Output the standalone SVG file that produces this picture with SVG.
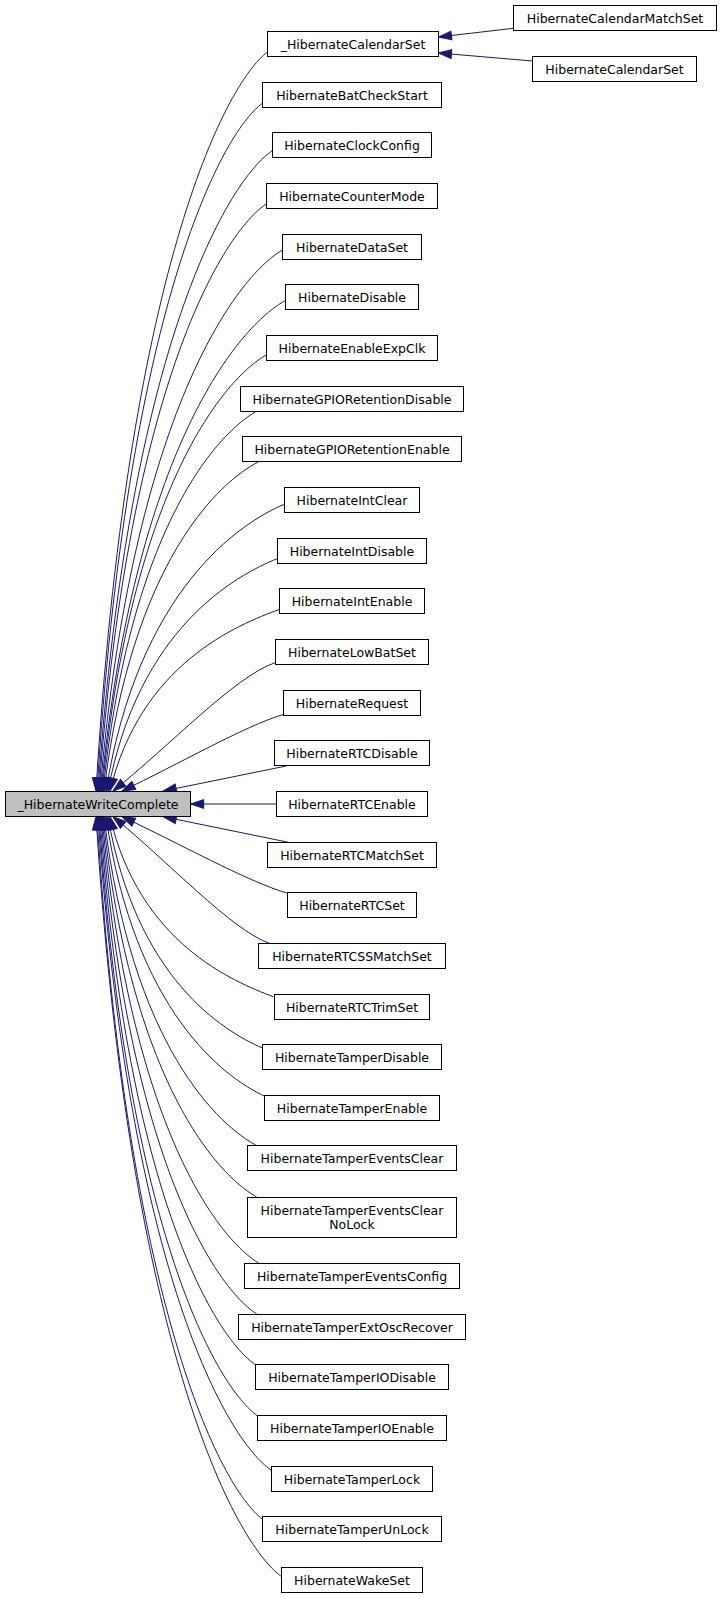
<svg xmlns="http://www.w3.org/2000/svg" width="721" height="1599" viewBox="0 0 721 1599">
<defs>
<style>
.n rect{fill:#ffffff;stroke:#000000;stroke-width:1}
.n.cur rect{fill:#bfbfbf}
.n text{font-family:"DejaVu Sans","Liberation Sans",sans-serif;font-size:12.5px;text-anchor:middle;fill:#000}
.e path{fill:none;stroke:#191970;stroke-width:1;marker-end:url(#arr)}
</style>
<marker id="arr" markerUnits="userSpaceOnUse" markerWidth="14" markerHeight="10" refX="13" refY="5" orient="auto" overflow="visible">
<path d="M0,0.6 L13,5 L0,9.4 z" fill="#191970" stroke="#191970" stroke-width="1"/>
</marker>
</defs>
<rect width="721" height="1599" fill="#ffffff"/>
<g id="edges" class="e">
<path d="M513.3,28.3 L438.5,37"/>
<path d="M532.7,61 L438.5,53"/>
<path d="M267.5,52 C224.6,84.2 126.9,273.7 96,791"/>
<path d="M262.3,103.3 C221,133.9 126.8,309.6 97,791"/>
<path d="M272.7,150.4 C229,179.6 129.4,342.6 98,791"/>
<path d="M266.3,204 C224.5,231.6 129.1,380.1 99,791"/>
<path d="M282.3,250.2 C236.7,276.4 132.8,412.4 100,791"/>
<path d="M285.7,300.4 C239.5,325.1 134.2,447.6 101,791"/>
<path d="M266.3,355 C225.2,378.1 131.6,485.8 102,791"/>
<path d="M256.7,411.2 C218.3,432.6 130.7,525.1 103,791"/>
<path d="M258.3,461.9 C219.7,481.8 131.8,560.6 104,791"/>
<path d="M284.3,504.3 C239.7,522.9 138.1,590.3 106,791"/>
<path d="M277.7,558.5 C235.3,575.5 138.5,628.3 108,791"/>
<path d="M279.7,609.3 C237.3,624.8 140.5,663.8 110,791"/>
<path d="M275,662.7 C234.5,676.5 169.7,746.1 113,791"/>
<path d="M283.7,714.3 C243.3,726.6 178.6,764.2 122,791"/>
<path d="M286.7,765.9 L163.3,791"/>
<path d="M276.7,804 L190.7,804"/>
<path d="M288,842.2 L163.3,816.7"/>
<path d="M286.7,893 C245.5,880.7 179.6,843.4 122,816.7"/>
<path d="M270,943.6 C230.7,929.8 168,861.1 113,816.7"/>
<path d="M273.3,996.7 C232.5,981.3 139.4,942.7 110,816.7"/>
<path d="M262.3,1048 C223.7,1031.1 135.8,978.6 108,816.7"/>
<path d="M264.3,1096 C224.7,1077.6 134.5,1012.2 106,816.7"/>
<path d="M258,1146.3 C219.5,1126.4 131.7,1047.4 104,816.7"/>
<path d="M256.7,1197 C218.3,1175.6 130.7,1082.9 103,816.7"/>
<path d="M259,1263.3 C219.7,1239.9 130.3,1129.3 102,816.7"/>
<path d="M256.7,1314 C217.8,1289.1 129,1164.8 101,816.7"/>
<path d="M255.7,1365 C216.8,1338.6 128,1200.5 100,816.7"/>
<path d="M257.7,1416 C218,1388 127.6,1236.2 99,816.7"/>
<path d="M271,1470 C227.7,1440.4 129.1,1274 98,816.7"/>
<path d="M262.3,1519 C221,1487.9 126.8,1308.3 97,816.7"/>
<path d="M281.7,1576.7 C235.3,1543.9 129.4,1348.7 96,816.7"/>
</g>
<g id="n_WriteComplete" class="n cur"><rect x="5.5" y="791.5" width="185" height="25"/><text x="98" y="808.5">_HibernateWriteComplete</text></g>
<g id="n_CalendarMatchSet" class="n"><rect x="513.5" y="5.5" width="203" height="25"/><text x="615" y="22.5">HibernateCalendarMatchSet</text></g>
<g id="n_CalendarSetPub" class="n"><rect x="532.5" y="56.5" width="164" height="25"/><text x="614.5" y="73.5">HibernateCalendarSet</text></g>
<g id="n_CalendarSet" class="n"><rect x="267.5" y="31.5" width="171" height="25"/><text x="353" y="48.5">_HibernateCalendarSet</text></g>
<g id="n_BatCheckStart" class="n"><rect x="262.5" y="82.5" width="179" height="25"/><text x="352" y="99.5">HibernateBatCheckStart</text></g>
<g id="n_ClockConfig" class="n"><rect x="272.5" y="132.5" width="159" height="25"/><text x="352" y="149.5">HibernateClockConfig</text></g>
<g id="n_CounterMode" class="n"><rect x="266.5" y="183.5" width="171" height="25"/><text x="352" y="200.5">HibernateCounterMode</text></g>
<g id="n_DataSet" class="n"><rect x="282.5" y="234.5" width="139" height="25"/><text x="352" y="251.5">HibernateDataSet</text></g>
<g id="n_Disable" class="n"><rect x="285.5" y="284.5" width="133" height="25"/><text x="352" y="301.5">HibernateDisable</text></g>
<g id="n_EnableExpClk" class="n"><rect x="266.5" y="335.5" width="171" height="25"/><text x="352" y="352.5">HibernateEnableExpClk</text></g>
<g id="n_GPIORetentionDisable" class="n"><rect x="240.5" y="386.5" width="223" height="25"/><text x="352" y="403.5">HibernateGPIORetentionDisable</text></g>
<g id="n_GPIORetentionEnable" class="n"><rect x="242.5" y="436.5" width="219" height="25"/><text x="352" y="453.5">HibernateGPIORetentionEnable</text></g>
<g id="n_IntClear" class="n"><rect x="284.5" y="487.5" width="135" height="25"/><text x="352" y="504.5">HibernateIntClear</text></g>
<g id="n_IntDisable" class="n"><rect x="277.5" y="538.5" width="149" height="25"/><text x="352" y="555.5">HibernateIntDisable</text></g>
<g id="n_IntEnable" class="n"><rect x="279.5" y="588.5" width="145" height="25"/><text x="352" y="605.5">HibernateIntEnable</text></g>
<g id="n_LowBatSet" class="n"><rect x="275.5" y="639.5" width="153" height="25"/><text x="352" y="656.5">HibernateLowBatSet</text></g>
<g id="n_Request" class="n"><rect x="283.5" y="690.5" width="137" height="25"/><text x="352" y="707.5">HibernateRequest</text></g>
<g id="n_RTCDisable" class="n"><rect x="274.5" y="740.5" width="155" height="25"/><text x="352" y="757.5">HibernateRTCDisable</text></g>
<g id="n_RTCEnable" class="n"><rect x="276.5" y="791.5" width="151" height="25"/><text x="352" y="808.5">HibernateRTCEnable</text></g>
<g id="n_RTCMatchSet" class="n"><rect x="267.5" y="842.5" width="169" height="25"/><text x="352" y="859.5">HibernateRTCMatchSet</text></g>
<g id="n_RTCSet" class="n"><rect x="287.5" y="892.5" width="129" height="25"/><text x="352" y="909.5">HibernateRTCSet</text></g>
<g id="n_RTCSSMatchSet" class="n"><rect x="258.5" y="943.5" width="187" height="25"/><text x="352" y="960.5">HibernateRTCSSMatchSet</text></g>
<g id="n_RTCTrimSet" class="n"><rect x="274.5" y="994.5" width="155" height="25"/><text x="352" y="1011.5">HibernateRTCTrimSet</text></g>
<g id="n_TamperDisable" class="n"><rect x="262.5" y="1044.5" width="179" height="25"/><text x="352" y="1061.5">HibernateTamperDisable</text></g>
<g id="n_TamperEnable" class="n"><rect x="264.5" y="1095.5" width="175" height="25"/><text x="352" y="1112.5">HibernateTamperEnable</text></g>
<g id="n_TamperEventsClear" class="n"><rect x="247.5" y="1145.5" width="209" height="25"/><text x="352" y="1162.5">HibernateTamperEventsClear</text></g>
<g id="n_TamperEventsClearNoLock" class="n"><rect x="247.5" y="1197.5" width="209" height="40"/><text x="352" y="1214.5">HibernateTamperEventsClear</text><text x="352" y="1228.5">NoLock</text></g>
<g id="n_TamperEventsConfig" class="n"><rect x="244.5" y="1263.5" width="215" height="25"/><text x="352" y="1280.5">HibernateTamperEventsConfig</text></g>
<g id="n_TamperExtOscRecover" class="n"><rect x="238.5" y="1314.5" width="227" height="25"/><text x="352" y="1331.5">HibernateTamperExtOscRecover</text></g>
<g id="n_TamperIODisable" class="n"><rect x="255.5" y="1364.5" width="193" height="25"/><text x="352" y="1381.5">HibernateTamperIODisable</text></g>
<g id="n_TamperIOEnable" class="n"><rect x="257.5" y="1415.5" width="189" height="25"/><text x="352" y="1432.5">HibernateTamperIOEnable</text></g>
<g id="n_TamperLock" class="n"><rect x="271.5" y="1466.5" width="161" height="25"/><text x="352" y="1483.5">HibernateTamperLock</text></g>
<g id="n_TamperUnLock" class="n"><rect x="262.5" y="1516.5" width="179" height="25"/><text x="352" y="1533.5">HibernateTamperUnLock</text></g>
<g id="n_WakeSet" class="n"><rect x="281.5" y="1567.5" width="141" height="25"/><text x="352" y="1584.5">HibernateWakeSet</text></g>
</svg>
